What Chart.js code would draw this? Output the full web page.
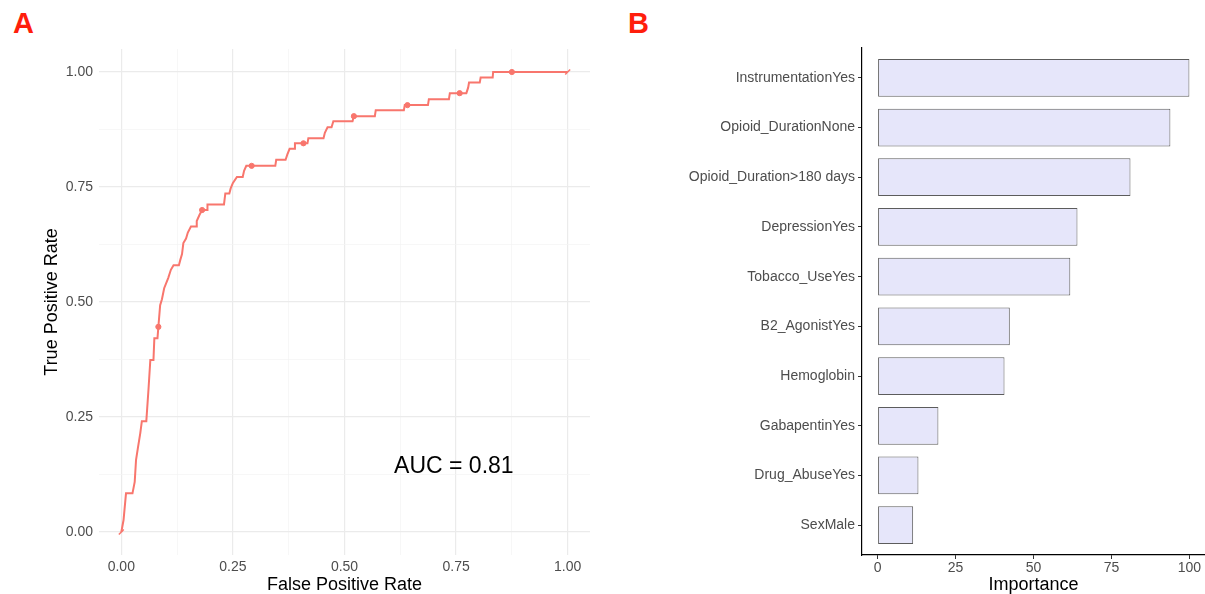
<!DOCTYPE html>
<html>
<head>
<meta charset="utf-8">
<script src="https://cdn.jsdelivr.net/npm/chart.js@4.4.1/dist/chart.umd.min.js"></script>
<style>
  html, body { margin: 0; padding: 0; background: #fff; overflow: hidden; }
  body { width: 1205px; height: 594px; position: relative; font-family: "Liberation Sans", Arial, sans-serif; }
  .panel-label { position: absolute; top: 8px; color: #ff1e0c; font-weight: bold; font-size: 29px; line-height: 30px; }
  #roc { position: absolute; left: 0; top: 0; }
  #importance { position: absolute; left: 610px; top: 0; }
</style>
</head>
<body>
<div class="panel-label" style="left: 13px;">A</div>
<div class="panel-label" style="left: 628px;">B</div>
<canvas id="roc" width="610" height="594"></canvas>
<canvas id="importance" width="610" height="594"></canvas>
<script>
// ROC curve vertices
const fprValues = [
  0, 0.005, 0.0105, 0.025, 0.03, 0.033, 0.037, 0.0425, 0.046, 0.056,
  0.061, 0.065, 0.072, 0.074, 0.081, 0.083, 0.087, 0.091, 0.096, 0.105,
  0.111, 0.117, 0.129, 0.132, 0.136, 0.139, 0.145, 0.149, 0.156, 0.168,
  0.169, 0.175, 0.181, 0.192, 0.193, 0.23, 0.233, 0.242, 0.245, 0.25,
  0.259, 0.272, 0.275, 0.28, 0.345, 0.347, 0.368, 0.372, 0.377, 0.387,
  0.389, 0.417, 0.419, 0.453, 0.456, 0.462, 0.471, 0.475, 0.518, 0.521,
  0.568, 0.57, 0.633, 0.635, 0.687, 0.689, 0.734, 0.736, 0.773, 0.777,
  0.779, 0.803, 0.805, 0.832, 0.833, 1
];
const tprValues = [
  0, 0.026, 0.084, 0.084, 0.109, 0.157, 0.182, 0.215, 0.241, 0.241,
  0.312, 0.374, 0.374, 0.421, 0.421, 0.446, 0.493, 0.506, 0.53, 0.552,
  0.57, 0.58, 0.58, 0.591, 0.604, 0.628, 0.638, 0.651, 0.664, 0.664,
  0.676, 0.689, 0.7, 0.7, 0.712, 0.712, 0.736, 0.736, 0.747, 0.759,
  0.772, 0.772, 0.785, 0.796, 0.796, 0.809, 0.809, 0.821, 0.833, 0.833,
  0.845, 0.845, 0.856, 0.856, 0.868, 0.88, 0.88, 0.893, 0.893, 0.904,
  0.904, 0.917, 0.917, 0.928, 0.928, 0.941, 0.941, 0.954, 0.954, 0.966,
  0.977, 0.977, 0.988, 0.988, 1, 1
];
// cutoff markers drawn on the curve
const markerFpr = [0.083, 0.181, 0.292, 0.408, 0.521, 0.641, 0.758, 0.875];
const markerTpr = [0.446, 0.7, 0.796, 0.845, 0.904, 0.928, 0.954, 1];
const endFpr = [0, 1];
const endTpr = [0, 1];
const rateTicks = [0, 0.25, 0.5, 0.75, 1];
const rateGrid = [0, 0.125, 0.25, 0.375, 0.5, 0.625, 0.75, 0.875, 1];
const aucText = "AUC = 0.81";
const aucAt = { x: 0.745, y: 0.129 };

// variable importance, panel B
const featureNames = [
  "InstrumentationYes", "Opioid_DurationNone", "Opioid_Duration>180 days",
  "DepressionYes", "Tobacco_UseYes", "B2_AgonistYes", "Hemoglobin",
  "GabapentinYes", "Drug_AbuseYes", "SexMale"
];
const importanceValues = [100, 93.9, 81.1, 64.1, 61.8, 42.4, 40.7, 19.5, 13.1, 11.4];
const importanceTicks = [0, 25, 50, 75, 100];

const FONT = '"Liberation Sans", Arial, sans-serif';
const TICK_GREY = "#4d4d4d";
const ROC_RED = "#f8766d";

Chart.defaults.font.family = FONT;
Chart.defaults.animation = false;

const zip = (xs, ys) => xs.map((x, i) => ({ x, y: ys[i] }));

const aucLabel = {
  id: "aucLabel",
  afterDatasetsDraw(chart) {
    const { ctx, scales } = chart;
    ctx.save();
    ctx.font = `23px ${FONT}`;
    ctx.fillStyle = "#000";
    ctx.textAlign = "center";
    ctx.textBaseline = "alphabetic";
    ctx.fillText(aucText, scales.x.getPixelForValue(aucAt.x), scales.y.getPixelForValue(aucAt.y));
    ctx.restore();
  },
};

function rateAxis(width, height) {
  const isMajor = (v) => rateTicks.some((t) => Math.abs(t - v) < 1e-9);
  return {
    type: "linear",
    min: -0.05,
    max: 1.05,
    afterBuildTicks: (scale) => {
      scale.ticks = rateGrid.map((value) => ({ value }));
    },
    afterFit: (scale) => {
      if (width) scale.width = width;
      if (height) scale.height = height;
    },
    border: { display: false },
    grid: {
      drawTicks: false,
      color: (ctx) => (isMajor(ctx.tick.value) ? "#ebebeb" : "#f4f4f4"),
      lineWidth: (ctx) => (isMajor(ctx.tick.value) ? 1.2 : 0.7),
    },
    ticks: {
      color: TICK_GREY,
      font: { size: 14 },
      autoSkip: false,
      maxRotation: 0,
      callback: (value) => (isMajor(value) ? value.toFixed(2) : ""),
    },
  };
}

const rocX = rateAxis(null, 39);
rocX.ticks.padding = 4;
rocX.title = {
  display: true,
  text: "False Positive Rate",
  color: "#000",
  font: { size: 18, lineHeight: 1 },
  padding: { top: 0, bottom: 0 },
};
const rocY = rateAxis(99, null);
rocY.ticks.padding = 6;
rocY.title = {
  display: true,
  text: "True Positive Rate",
  color: "#000",
  font: { size: 18 },
  padding: { top: 41, bottom: 0 },
};

new Chart(document.getElementById("roc"), {
  type: "line",
  data: {
    datasets: [
      {
        data: zip(fprValues, tprValues),
        borderColor: ROC_RED,
        borderWidth: 2,
        pointRadius: 0,
        tension: 0,
      },
      {
        data: zip(markerFpr, markerTpr),
        showLine: false,
        pointRadius: 2.6,
        pointBackgroundColor: ROC_RED,
        pointBorderColor: ROC_RED,
      },
      {
        data: zip(endFpr, endTpr),
        showLine: false,
        pointStyle: "line",
        rotation: -45,
        pointRadius: 3.5,
        pointBorderWidth: 1.5,
        pointBorderColor: ROC_RED,
      },
    ],
  },
  options: {
    responsive: false,
    layout: { padding: { left: 0, top: 49, right: 20, bottom: 0 } },
    plugins: { legend: { display: false }, tooltip: { enabled: false } },
    scales: { x: rocX, y: rocY },
  },
  plugins: [aucLabel],
});

new Chart(document.getElementById("importance"), {
  type: "bar",
  data: {
    datasets: [
      {
        data: featureNames.map((name, i) => ({ x: importanceValues[i], y: i })),
        backgroundColor: "#e6e6fa",
        borderColor: "#5c5c5c",
        borderWidth: 1,
        borderSkipped: false,
        barPercentage: 0.76,
        categoryPercentage: 1,
      },
    ],
  },
  options: {
    responsive: false,
    indexAxis: "y",
    layout: { padding: { left: 0, top: 48, right: 15, bottom: 0 } },
    plugins: { legend: { display: false }, tooltip: { enabled: false } },
    scales: {
      x: {
        type: "linear",
        min: -5,
        max: 105,
        afterBuildTicks: (scale) => {
          scale.ticks = importanceTicks.map((value) => ({ value }));
        },
        afterFit: (scale) => {
          scale.height = 39;
        },
        border: { display: true, color: "#000", width: 1.2 },
        grid: { drawOnChartArea: false, drawTicks: true, tickLength: 4, color: "#333" },
        ticks: { color: TICK_GREY, font: { size: 14 }, padding: 1, maxRotation: 0, autoSkip: false },
        title: {
          display: true,
          text: "Importance",
          color: "#000",
          font: { size: 18, lineHeight: 1 },
          padding: { top: 0, bottom: 0 },
        },
      },
      y: {
        type: "linear",
        min: -0.6,
        max: 9.6,
        reverse: true,
        offset: false,
        afterBuildTicks: (scale) => {
          scale.ticks = featureNames.map((name, i) => ({ value: i }));
        },
        afterFit: (scale) => {
          scale.width = 252;
        },
        border: { display: true, color: "#000", width: 1.2 },
        grid: { offset: false, drawOnChartArea: false, drawTicks: true, tickLength: 4, color: "#333" },
        ticks: {
          color: TICK_GREY,
          font: { size: 14 },
          padding: 3,
          autoSkip: false,
          callback: (value) => featureNames[value],
        },
      },
    },
  },
});
</script>
</body>
</html>
